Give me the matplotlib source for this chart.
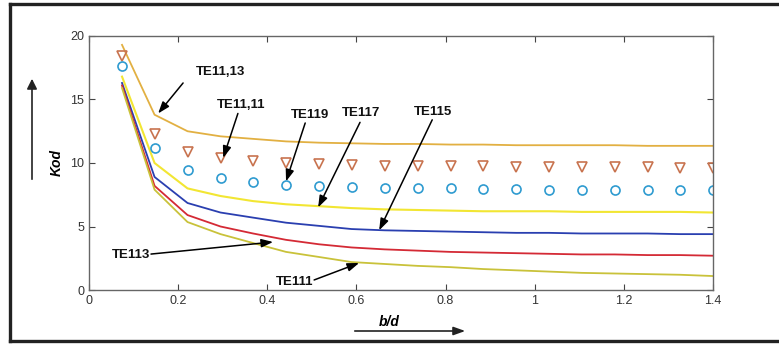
import matplotlib
matplotlib.use("Agg")
import matplotlib.pyplot as plt
from matplotlib.patches import FancyArrowPatch

plt.rcParams['font.family'] = ['Liberation Sans', 'DejaVu Sans']

# b/d 値
x = [0.074, 0.147, 0.221, 0.295, 0.368, 0.442, 0.516, 0.589, 0.663, 0.737,
     0.811, 0.884, 0.958, 1.032, 1.105, 1.179, 1.253, 1.326, 1.400]

te11_13 = [19.3, 13.8, 12.5, 12.1, 11.9, 11.7, 11.6, 11.55, 11.5, 11.5,
           11.45, 11.45, 11.4, 11.4, 11.4, 11.4, 11.35, 11.35, 11.35]
te11_11 = [18.4, 12.3, 10.9, 10.4, 10.15, 10.0, 9.9, 9.85, 9.8, 9.8,
           9.75, 9.75, 9.7, 9.7, 9.7, 9.65, 9.65, 9.6, 9.6]
te119 = [17.6, 11.2, 9.45, 8.8, 8.5, 8.3, 8.2, 8.1, 8.05, 8.0,
         8.0, 7.95, 7.95, 7.9, 7.9, 7.9, 7.9, 7.85, 7.85]
te117 = [16.8, 10.0, 8.0, 7.4, 7.0, 6.75, 6.6, 6.45, 6.35, 6.3,
         6.25, 6.2, 6.2, 6.2, 6.15, 6.15, 6.15, 6.15, 6.1]
te115 = [16.3, 8.9, 6.85, 6.1, 5.7, 5.3, 5.05, 4.8, 4.7, 4.65,
         4.6, 4.55, 4.5, 4.5, 4.45, 4.45, 4.45, 4.4, 4.4]
te113 = [16.1, 8.2, 5.9, 5.0, 4.45, 3.95, 3.6, 3.35, 3.2, 3.1,
         3.0, 2.95, 2.9, 2.85, 2.8, 2.8, 2.75, 2.75, 2.7]
te111 = [15.9, 7.9, 5.35, 4.4, 3.7, 3.0, 2.6, 2.2, 2.05, 1.9,
         1.8, 1.65, 1.55, 1.45, 1.35, 1.3, 1.25, 1.2, 1.1]

xticks = [0, 0.2, 0.4, 0.6, 0.8, 1, 1.2, 1.4]
xticklabels = ['0', '0.2', '0.4', '0.6', '0.8', '1', '1.2', '1.4']
yticks = [0, 5, 10, 15, 20]

# ラベル, 文字位置, 矢印の始点, 矢印の終点 (データ座標)
labels = [
    ('TE11,13', (0.294, 17.2), (0.211, 16.3), (0.155, 13.9)),
    ('TE11,11', (0.341, 14.6), (0.334, 13.9), (0.301, 10.4)),
    ('TE119', (0.496, 13.8), (0.485, 13.15), (0.442, 8.55)),
    ('TE117', (0.610, 13.95), (0.608, 13.2), (0.514, 6.5)),
    ('TE115', (0.772, 14.0), (0.770, 13.4), (0.651, 4.7)),
    ('TE113', (0.094, 2.76), (0.139, 2.83), (0.413, 3.78)),
    ('TE111', (0.462, 0.63), (0.505, 0.79), (0.606, 2.13)),
]


def main():
    fig = plt.figure(figsize=(7.79, 3.45), dpi=100)
    ax = fig.add_axes([0.1143, 0.1594, 0.8010, 0.7363])

    ax.plot(x, te11_13, color='#e2b042', lw=1.3)
    ax.plot(x, te117, color='#f2e633', lw=1.5)
    ax.plot(x, te115, color='#2a3fb0', lw=1.3)
    ax.plot(x, te113, color='#d42a35', lw=1.3)
    ax.plot(x, te111, color='#c9c23a', lw=1.3)
    ax.plot(x, te11_11, 'v', ms=7, mfc='none', mec='#c8734f', mew=1.2)
    ax.plot(x, te119, 'o', ms=6.5, mfc='none', mec='#2e9bd0', mew=1.2)

    ax.set_xlim(0, 1.4)
    ax.set_ylim(0, 20)
    ax.set_xticks(xticks)
    ax.set_xticklabels(xticklabels)
    ax.set_yticks(yticks)
    ax.tick_params(direction='in', top=True, right=True, length=4,
                   labelsize=9, colors='#444444', labelcolor='#333333')
    for s in ax.spines.values():
        s.set_color('#666666')
        s.set_linewidth(1.0)

    # 曲線ラベルと矢印
    for name, tpos, tail, head in labels:
        ax.text(tpos[0], tpos[1], name, fontsize=9.5, fontweight='bold',
                ha='center', va='center', color='#111111')
        ax.annotate('', xy=head, xytext=tail,
                    arrowprops=dict(arrowstyle='-|>,head_length=0.7,head_width=0.25',
                                    color='black', lw=1.1, shrinkA=0, shrinkB=0))

    # 軸の矢印
    W, H = 779.0, 345.0
    fig.add_artist(FancyArrowPatch(
        (32 / W, 1 - 182 / H), (32 / W, 1 - 76 / H), transform=fig.transFigure,
        arrowstyle='-|>,head_length=6,head_width=3', color='#222222', lw=1.2))
    fig.text(57 / W, 1 - 163 / H, 'Kod', rotation=90, fontsize=10,
             fontweight='bold', fontstyle='italic', ha='center', va='center')
    fig.add_artist(FancyArrowPatch(
        (352 / W, 1 - 331 / H), (468 / W, 1 - 331 / H), transform=fig.transFigure,
        arrowstyle='-|>,head_length=7,head_width=2.5', color='#222222', lw=1.2))
    fig.text(389 / W, 1 - 322 / H, 'b/d', fontsize=10,
             fontweight='bold', fontstyle='italic', ha='center', va='center')

    # 外枠
    fig.add_artist(plt.Line2D([10 / W, 10 / W], [1 - 341 / H, 1 - 4 / H],
                              transform=fig.transFigure, color='#222222', lw=2.4))
    fig.add_artist(plt.Line2D([10 / W, 1.0], [1 - 4 / H, 1 - 4 / H],
                              transform=fig.transFigure, color='#222222', lw=2.4))
    fig.add_artist(plt.Line2D([10 / W, 1.0], [1 - 341 / H, 1 - 341 / H],
                              transform=fig.transFigure, color='#222222', lw=2.4))

    fig.savefig('out.png', dpi=100)


if __name__ == '__main__':
    main()
